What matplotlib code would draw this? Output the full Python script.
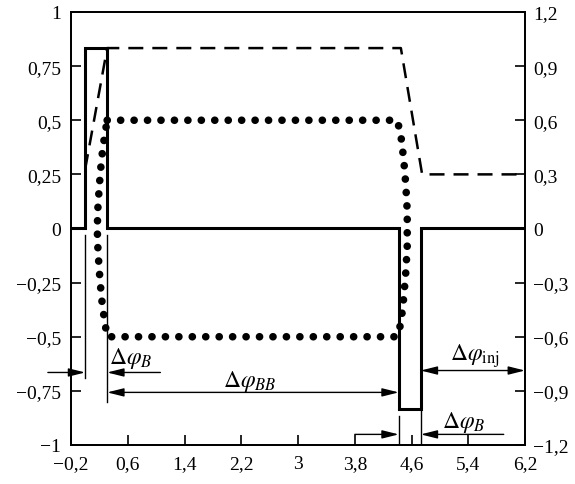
import matplotlib
matplotlib.use("Agg")
import matplotlib.pyplot as plt
from matplotlib.ticker import FixedLocator, FixedFormatter

plt.rcParams['font.family'] = ['Liberation Serif', 'DejaVu Serif']
plt.rcParams['mathtext.fontset'] = 'stix'

# ---- data ----
phi_solid = [-0.2, 0.0, 0.0, 0.31, 0.31, 4.42, 4.42, 4.73, 4.73, 6.2]
val_solid = [0.0, 0.0, 0.833, 0.833, 0.0, 0.0, -0.833, -0.833, 0.0, 0.0]

phi_dashed = [0.0, 0.31, 4.45, 4.75, 6.2]
val_dashed = [0.33, 1.0, 1.0, 0.30, 0.30]   # right axis

phi_dotted = [0.31, 4.40, 4.45, 4.49, 4.52, 4.54, 4.54, 4.52, 4.49, 4.45, 4.39,
              0.31, 0.27, 0.23, 0.20, 0.18, 0.17, 0.18, 0.20, 0.23, 0.27, 0.31]
val_dotted = [0.5, 0.5, 0.43, 0.32, 0.20, 0.08, -0.08, -0.20, -0.32, -0.44, -0.5,
              -0.5, -0.42, -0.32, -0.2, -0.1, 0.0, 0.1, 0.2, 0.32, 0.42, 0.5]

x_ticks = [-0.2, 0.6, 1.4, 2.2, 3.0, 3.8, 4.6, 5.4, 6.2]
x_labels = ['\u22120,2', '0,6', '1,4', '2,2', '3', '3,8', '4,6', '5,4', '6,2']
yl_ticks = [-1, -0.75, -0.5, -0.25, 0, 0.25, 0.5, 0.75, 1]
yl_labels = ['\u22121', '\u22120,75', '\u22120,5', '\u22120,25', '0', '0,25', '0,5', '0,75', '1']
yr_ticks = [-1.2, -0.9, -0.6, -0.3, 0, 0.3, 0.6, 0.9, 1.2]
yr_labels = ['\u22121,2', '\u22120,9', '\u22120,6', '\u22120,3', '0', '0,3', '0,6', '0,9', '1,2']

fig = plt.figure(figsize=(5.75, 4.85), dpi=100)
ax = fig.add_axes([71/575, 1-446/485, 454/575, 433/485])
ax2 = ax.twinx()

ax.set_xlim(-0.2, 6.2)
ax.set_ylim(-1, 1)
ax2.set_ylim(-1.2, 1.2)

ax.plot(phi_solid, val_solid, color='black', lw=2.2, solid_joinstyle='miter', zorder=3)
ax2.plot(phi_dashed, val_dashed, color='black', lw=1.8, linestyle=(0, (6.0, 3.6)), zorder=3)
ax.plot(phi_dotted, val_dotted, color='black', lw=5.5, linestyle=(0, (0.01, 1.75)),
        dash_capstyle='round', zorder=4)

fs = 14
ax.xaxis.set_major_locator(FixedLocator(x_ticks))
ax.xaxis.set_major_formatter(FixedFormatter(x_labels))
ax.yaxis.set_major_locator(FixedLocator(yl_ticks))
ax.yaxis.set_major_formatter(FixedFormatter(yl_labels))
ax2.yaxis.set_major_locator(FixedLocator(yr_ticks))
ax2.yaxis.set_major_formatter(FixedFormatter(yr_labels))

ax.tick_params(axis='both', direction='in', length=7, width=1.2, labelsize=fs, pad=7,
               top=False, right=False)
ax2.tick_params(axis='y', direction='in', length=7, width=1.2, labelsize=fs, pad=6)
for a in (ax, ax2):
    for s in a.spines.values():
        s.set_linewidth(1.3)

# ---- dimension annotations ----
def ext(x, y0, y1):
    ax.plot([x, x], [y0, y1], color='black', lw=1.0, clip_on=False, zorder=2)

ext(0.0, -0.03, -0.69)
ext(0.31, -0.03, -0.80)
ext(4.42, -0.865, -0.99)
ext(4.73, -0.845, -0.99)

ap1 = dict(arrowstyle='-|>,head_length=1.0,head_width=0.25', mutation_scale=10,
           color='black', lw=1.0, shrinkA=0, shrinkB=0)
ap2 = dict(arrowstyle='<|-|>,head_length=1.0,head_width=0.25', mutation_scale=10,
           color='black', lw=1.0, shrinkA=0, shrinkB=0)

def arrow(x0, x1, y, props):
    ax.annotate('', xy=(x1, y), xytext=(x0, y), arrowprops=props,
                annotation_clip=False)

arrow(-0.526, 0.0, -0.665, ap1)
arrow(1.06, 0.31, -0.665, ap1)
arrow(0.31, 4.42, -0.757, ap2)
arrow(3.8, 4.42, -0.951, ap1)
arrow(5.90, 4.73, -0.951, ap1)
arrow(4.73, 6.2, -0.656, ap2)

lfs = 17
ax.text(0.33, -0.595, r'$\Delta\varphi_B$', fontsize=lfs, ha='left', va='center')
ax.text(2.32, -0.70, r'$\Delta\varphi_{BB}$', fontsize=lfs, ha='center', va='center')
ax.text(5.33, -0.89, r'$\Delta\varphi_B$', fontsize=lfs, ha='center', va='center')
ax.text(5.49, -0.585, r'$\Delta\varphi_{\rm inj}$', fontsize=lfs, ha='center', va='center')

fig.savefig('out.png', dpi=100)
